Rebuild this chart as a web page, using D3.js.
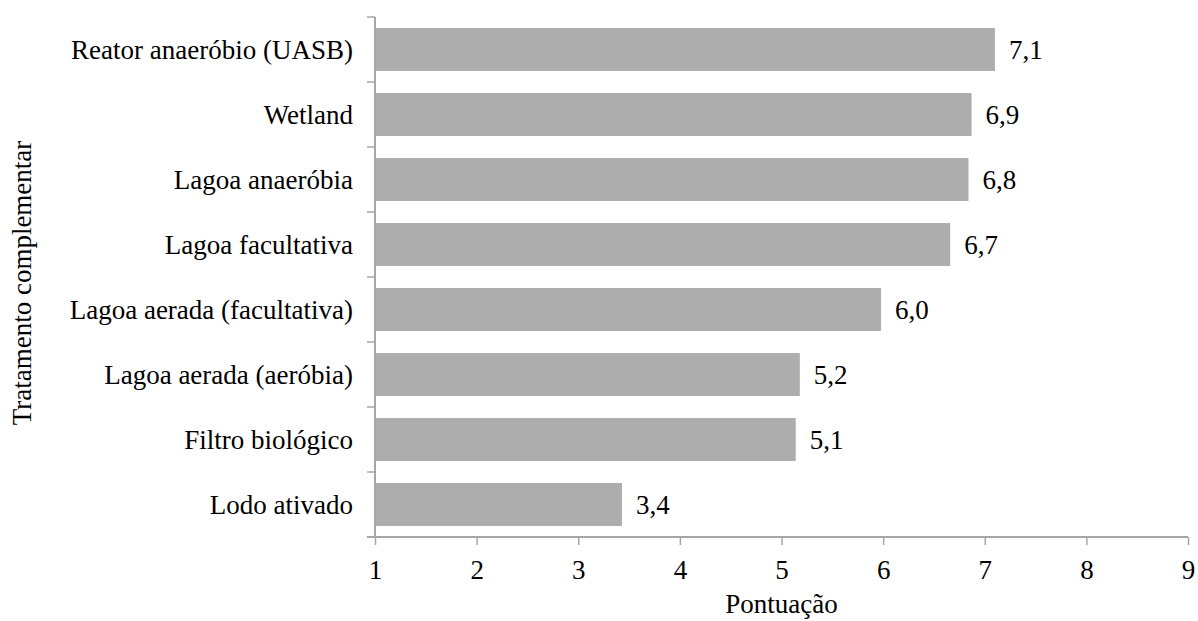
<!DOCTYPE html>
<html>
<head>
<meta charset="utf-8">
<script src="https://cdn.jsdelivr.net/npm/d3@7"></script>
<style>
  body { margin: 0; background: #fff; }
</style>
</head>
<body>
<script>
var width = 1198;
var height = 621;

var categories = [
  "Reator anaeróbio (UASB)",
  "Wetland",
  "Lagoa anaeróbia",
  "Lagoa facultativa",
  "Lagoa aerada (facultativa)",
  "Lagoa aerada (aeróbia)",
  "Filtro biológico",
  "Lodo ativado"
];
var values = [7.1, 6.87, 6.84, 6.66, 5.98, 5.18, 5.14, 3.43];
var xTicks = [1, 2, 3, 4, 5, 6, 7, 8, 9];

var margin = { top: 17, right: 10, bottom: 84, left: 375 };
var serif = "'Liberation Serif', 'Times New Roman', Times, serif";
var fontSize = "27px";

var svg = d3.select("body")
  .append("svg")
  .attr("width", width)
  .attr("height", height);

var x = d3.scaleLinear()
  .domain([1, 9])
  .range([margin.left, 1188]);

var y = d3.scaleBand()
  .domain(categories)
  .range([margin.top, height - margin.bottom])
  .paddingInner(0.34)
  .paddingOuter(0.17);

var axisColor = "#a6a6a6";
var fmt = d3.format(".1f");

// bars
svg.append("g")
  .selectAll("rect")
  .data(values)
  .enter().append("rect")
    .attr("x", x(1))
    .attr("y", function(d, i) { return y(categories[i]); })
    .attr("width", function(d) { return x(d) - x(1); })
    .attr("height", y.bandwidth())
    .attr("fill", "#adadad");

// value labels
svg.append("g")
  .selectAll("text")
  .data(values)
  .enter().append("text")
    .attr("x", function(d) { return x(d) + 14; })
    .attr("y", function(d, i) { return y(categories[i]) + y.bandwidth() / 2; })
    .attr("dy", "0.35em")
    .style("font-family", serif)
    .style("font-size", fontSize)
    .text(function(d) { return fmt(d).replace(".", ","); });

// x axis
var xAxis = svg.append("g")
  .attr("transform", "translate(0," + (height - margin.bottom) + ")")
  .call(d3.axisBottom(x).tickValues(xTicks).tickSize(8).tickPadding(15).tickFormat(d3.format("d")));
xAxis.select(".domain").remove();
xAxis.append("line")
  .attr("x1", x(1) - 8).attr("x2", x(9))
  .attr("y1", 0).attr("y2", 0)
  .attr("stroke", axisColor).attr("stroke-width", 2);
xAxis.selectAll(".tick line").attr("stroke", axisColor).attr("stroke-width", 1.5);
xAxis.selectAll(".tick text")
  .style("font-family", serif)
  .style("font-size", fontSize)
  .attr("fill", "#000");

// y axis (ticks at category boundaries)
var step = y.step();
var bounds = d3.range(categories.length + 1).map(function(i) { return margin.top + i * step; });
var yAxis = svg.append("g");
yAxis.append("line")
  .attr("x1", x(1)).attr("x2", x(1))
  .attr("y1", margin.top).attr("y2", height - margin.bottom)
  .attr("stroke", axisColor).attr("stroke-width", 2);
yAxis.selectAll(".bound")
  .data(bounds.slice(0, -1))
  .enter().append("line")
    .attr("x1", x(1) - 8).attr("x2", x(1))
    .attr("y1", function(d) { return d; })
    .attr("y2", function(d) { return d; })
    .attr("stroke", axisColor).attr("stroke-width", 1.5);
yAxis.selectAll(".cat")
  .data(categories)
  .enter().append("text")
    .attr("x", x(1) - 22)
    .attr("y", function(d) { return y(d) + y.bandwidth() / 2; })
    .attr("dy", "0.35em")
    .attr("text-anchor", "end")
    .style("font-family", serif)
    .style("font-size", fontSize)
    .text(function(d) { return d; });

// axis titles
svg.append("text")
  .attr("x", (x(1) + x(9)) / 2)
  .attr("y", 613)
  .attr("text-anchor", "middle")
  .style("font-family", serif)
  .style("font-size", fontSize)
  .text("Pontuação");

svg.append("text")
  .attr("transform", "translate(31,283) rotate(-90)")
  .attr("text-anchor", "middle")
  .style("font-family", serif)
  .style("font-size", fontSize)
  .text("Tratamento complementar");
</script>
</body>
</html>
